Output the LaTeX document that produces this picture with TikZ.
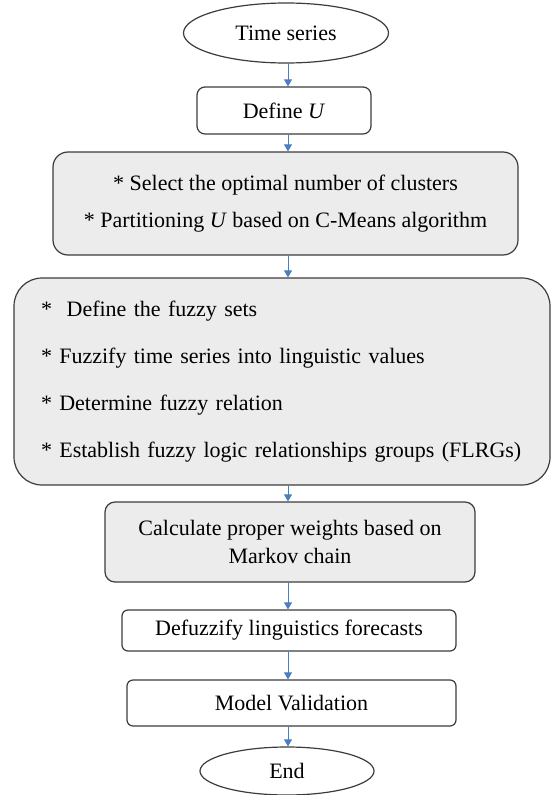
\documentclass[tikz,border=0pt]{standalone}
\usepackage{fontspec}
\setmainfont{Liberation Serif}
\usetikzlibrary{shapes.geometric,arrows.meta}
\definecolor{boxgray}{RGB}{236,236,236}
\definecolor{edgegray}{RGB}{60,60,60}
\definecolor{arrblue}{RGB}{74,126,193}
\tikzset{
  basebox/.style={draw=edgegray, line width=1.2pt, inner sep=0pt, align=center,
    font=\fontsize{22}{28}\selectfont},
  oval/.style={basebox, ellipse, fill=white},
  whitebox/.style={basebox, fill=white, rounded corners=7pt},
  graybox/.style={basebox, fill=boxgray},
  arr/.style={draw=arrblue, line width=1pt, -{Triangle[width=8pt,length=7pt]}}
}
\begin{document}
\begin{tikzpicture}[x=1pt,y=-1pt]
\useasboundingbox (0,0) rectangle (553,795);
\coordinate (ax) at (288,0);

\node[oval, minimum width=205pt, minimum height=60pt] (ts) at (286,33) {Time series};
\node[whitebox, rounded corners=8pt, minimum width=174pt, minimum height=47pt] (du) at (284,110.5) {Define \textit{U}};
\node[graybox, rounded corners=15pt, minimum width=465pt, minimum height=103pt,
  font=\fontsize{22}{37}\selectfont] (cl) at (285.5,203.5)
  {* Select the optimal number of clusters\\{}* Partitioning \textit{U} based on C-Means algorithm};
\node[graybox, rounded corners=28pt, minimum width=536pt, minimum height=207pt,
  text width=482pt, align=left, font=\fontsize{22}{47}\selectfont] (fz) at (282,381.5)
  {*~\ Define the fuzzy sets\\{}%
   * Fuzzify time series into linguistic values\\{}%
   * Determine fuzzy relation\\{}%
   * Establish fuzzy logic relationships groups (FLRGs)};
\node[graybox, rounded corners=10pt, minimum width=370pt, minimum height=80pt] (mk) at (290,542)
  {Calculate proper weights based on\\Markov chain};
\node[whitebox, rounded corners=6pt, minimum width=334pt, minimum height=41pt] (df) at (289,630.5)
  {Defuzzify linguistics forecasts};
\node[whitebox, rounded corners=6pt, minimum width=329pt, minimum height=46pt] (mv) at (291.5,703)
  {Model Validation};
\node[oval, minimum width=174pt, minimum height=48pt] (en) at (287,771) {End};

\draw[arr] (ts.south -| ax) -- (du.north -| ax);
\draw[arr] (du.south -| ax) -- (cl.north -| ax);
\draw[arr] (cl.south -| ax) -- (fz.north -| ax);
\draw[arr] (fz.south -| ax) -- (mk.north -| ax);
\draw[arr] (mk.south -| ax) -- (df.north -| ax);
\draw[arr] (df.south -| ax) -- (mv.north -| ax);
\draw[arr] (mv.south -| ax) -- (en.north -| ax);
\end{tikzpicture}
\end{document}
